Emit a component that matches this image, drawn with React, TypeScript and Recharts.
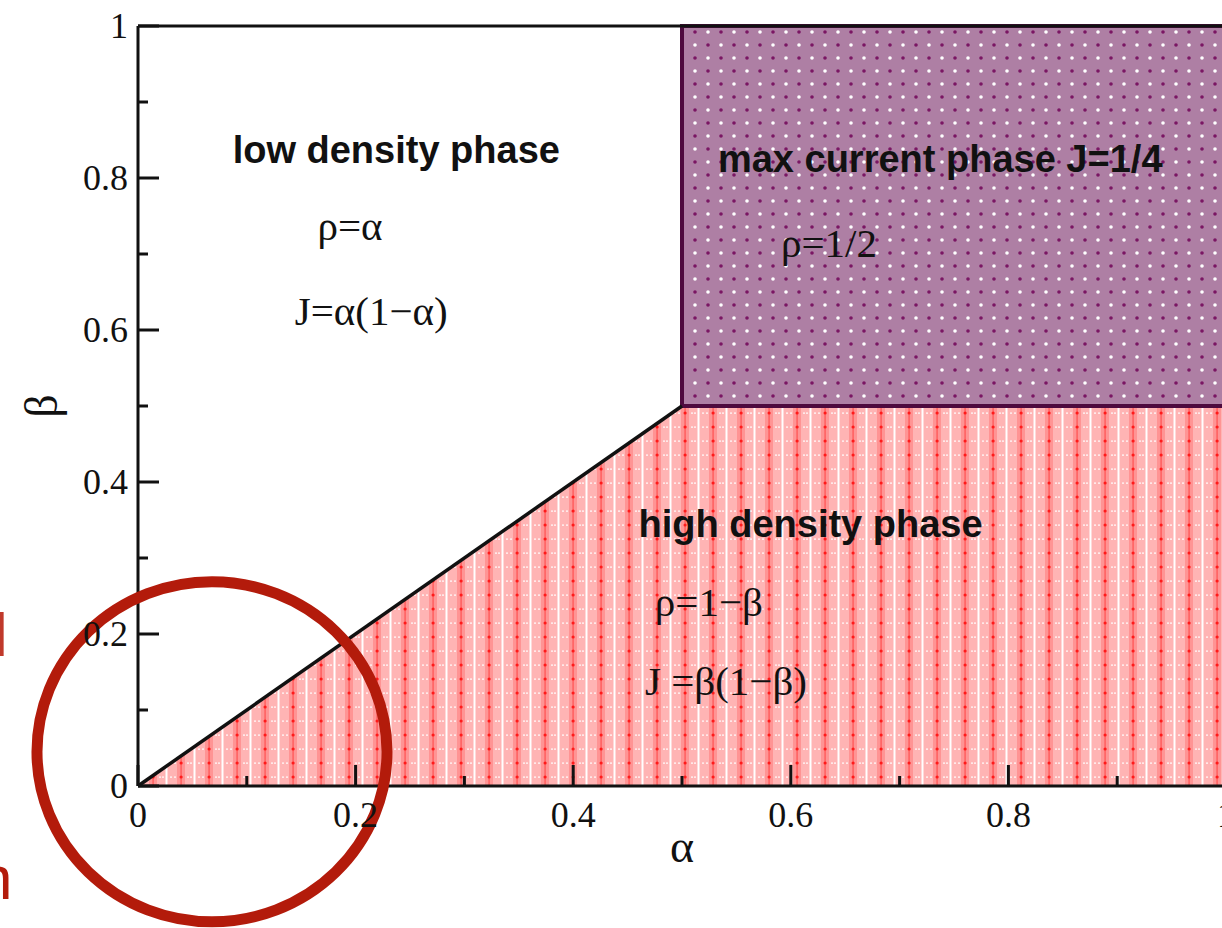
import React from 'react';
import {
  ComposedChart, Area, Line, XAxis, YAxis, ReferenceArea, ReferenceDot,
} from 'recharts';

// axis ticks (major every 0.2, minor every 0.1)
const alphaTicks = [0, 0.1, 0.2, 0.3, 0.4, 0.5, 0.6, 0.7, 0.8, 0.9, 1];
const betaTicks = [0, 0.1, 0.2, 0.3, 0.4, 0.5, 0.6, 0.7, 0.8, 0.9, 1];
const tickLabels = ['0', '', '0.2', '', '0.4', '', '0.6', '', '0.8', '', '1'];

// phase boundary: coexistence line alpha=beta up to 1/2, then beta=1/2
const boundaryAlpha = [0, 0.5, 1];
const boundaryBeta = [0, 0.5, 0.5];

// max current region
const maxCurrentAlpha = [0.5, 1];
const maxCurrentBeta = [0.5, 1];

// text inside the diagram, anchored in (alpha, beta)
const phaseLabels = [
  { text: 'low density phase', alpha: 0.087, beta: 0.82, bold: true },
  { text: 'ρ=α', alpha: 0.165, beta: 0.718, bold: false },
  { text: 'J=α(1−α)', alpha: 0.144, beta: 0.607, bold: false },
  { text: 'max current phase J=1/4', alpha: 0.533, beta: 0.808, bold: true },
  { text: 'ρ=1/2', alpha: 0.591, beta: 0.696, bold: false },
  { text: 'high density phase', alpha: 0.46, beta: 0.328, bold: true },
  { text: 'ρ=1−β', alpha: 0.475, beta: 0.224, bold: false },
  { text: 'J =β(1−β)', alpha: 0.466, beta: 0.12, bold: false },
];

// highlighted corner (red circle annotation)
const highlight = { alpha: 0.068, beta: 0.045 };

const highDensity = boundaryAlpha.map((a, i) => ({ alpha: a, beta: boundaryBeta[i] }));
const diagonal = highDensity.slice(0, 2);

const serif = '"Liberation Serif", "Times New Roman", serif';
const sans = '"Liberation Sans", Arial, Helvetica, sans-serif';
const ink = '#111';

const isMajor = (v: number) => Math.round(v * 10) % 2 === 0;

const makeTick = (side: 'bottom' | 'top' | 'left' | 'right') => (props: any) => {
  const { x, y, payload, index } = props;
  const len = isMajor(payload.value) ? 21 : 10;
  let line;
  if (side === 'bottom') line = <line x1={x} y1={y} x2={x} y2={y - len} />;
  else if (side === 'top') line = <line x1={x} y1={y} x2={x} y2={y + len} />;
  else if (side === 'left') line = <line x1={x} y1={y} x2={x + len} y2={y} />;
  else line = <line x1={x} y1={y} x2={x - len} y2={y} />;
  const label = tickLabels[index];
  return (
    <g>
      <g stroke={ink} strokeWidth={3}>{line}</g>
      {side === 'bottom' && label && (
        <text x={x} y={y + 41} textAnchor="middle" fontFamily={serif} fontSize={36} fill={ink}>{label}</text>
      )}
      {side === 'left' && label && (
        <text x={x - 10} y={y + 12} textAnchor="end" fontFamily={serif} fontSize={36} fill={ink}>{label}</text>
      )}
    </g>
  );
};

export default function App() {
  return (
    <div style={{ position: 'absolute', left: 0, top: 0, width: 1222, height: 928, overflow: 'hidden', background: '#fff' }}>
      <ComposedChart width={1240} height={928} margin={{ top: 0, right: 0, bottom: 0, left: 0 }}>
        <defs>
          <pattern id="pinkHatch" patternUnits="userSpaceOnUse" width={28} height={14}>
            <rect width={28} height={14} fill="#ffb4b4" />
            <rect x={9} width={8} height={14} fill="#ff9494" />
            <rect x={12.3} width={1.6} height={14} fill="#ff6262" />
            <rect x={25.5} width={2} height={14} fill="#ffffff" />
            <rect x={2} y={6.5} width={2} height={1.2} fill="#ffffff" />
            <rect x={6} y={6.5} width={2} height={1.2} fill="#ffffff" />
            <rect x={19} y={6.5} width={2} height={1.2} fill="#ffffff" />
            <rect x={22} y={6.5} width={2} height={1.2} fill="#ffffff" />
            <circle cx={13.1} cy={7} r={1.6} fill="#ff1a1a" />
          </pattern>
          <pattern id="purpleDots" patternUnits="userSpaceOnUse" width={26} height={26}>
            <rect width={26} height={26} fill="#ae7fa4" />
            <circle cx={6} cy={6} r={1.8} fill="#ffffff" />
            <circle cx={19} cy={19} r={1.8} fill="#ffffff" />
            <circle cx={19} cy={6} r={1.8} fill="#7a1663" />
            <circle cx={6} cy={19} r={1.8} fill="#7a1663" />
          </pattern>
        </defs>

        <XAxis
          dataKey="alpha" type="number" domain={[0, 1]} ticks={alphaTicks} interval={0}
          height={142} tickSize={0} tickMargin={0} tickLine={false}
          axisLine={{ stroke: ink, strokeWidth: 3 }} tick={makeTick('bottom')}
          label={{
            content: (p: any) => (
              <text x={p.viewBox.x + p.viewBox.width / 2} y={p.viewBox.y + 76} textAnchor="middle"
                fontFamily={serif} fontSize={46} fill={ink}>α</text>
            ),
          }}
        />
        <XAxis
          xAxisId="top" orientation="top" dataKey="alpha" type="number" domain={[0, 1]} ticks={alphaTicks}
          interval={0} height={26} tickSize={0} tickMargin={0} tickLine={false}
          axisLine={{ stroke: ink, strokeWidth: 3 }} tick={makeTick('top')}
        />
        <YAxis
          type="number" domain={[0, 1]} ticks={betaTicks} interval={0} width={138}
          tickSize={0} tickMargin={0} tickLine={false}
          axisLine={{ stroke: ink, strokeWidth: 3 }} tick={makeTick('left')}
          label={{
            content: (p: any) => {
              const cx = p.viewBox.x + 57;
              const cy = p.viewBox.y + p.viewBox.height / 2;
              return (
                <text x={cx} y={cy} textAnchor="middle" transform={`rotate(-90 ${cx} ${cy})`}
                  fontFamily={serif} fontSize={46} fill={ink}>β</text>
              );
            },
          }}
        />
        <YAxis
          yAxisId="right" orientation="right" type="number" domain={[0, 1]} ticks={betaTicks} interval={0}
          width={14} tickSize={0} tickMargin={0} tickLine={false}
          axisLine={{ stroke: ink, strokeWidth: 3 }} tick={makeTick('right')}
        />

        <Area
          data={highDensity} dataKey="beta" type="linear" fill="url(#pinkHatch)" fillOpacity={1}
          stroke="none" isAnimationActive={false}
        />
        <ReferenceArea
          x1={maxCurrentAlpha[0]} x2={maxCurrentAlpha[1]} y1={maxCurrentBeta[0]} y2={maxCurrentBeta[1]}
          fill="url(#purpleDots)" fillOpacity={1} stroke="#4e0a3e" strokeWidth={4}
        />
        <Line
          data={diagonal} dataKey="beta" type="linear" stroke={ink} strokeWidth={3.5}
          dot={false} activeDot={false} isAnimationActive={false}
        />

        {phaseLabels.map((l) => (
          <ReferenceDot
            key={l.text} x={l.alpha} y={l.beta} r={0} ifOverflow="visible"
            shape={(p: any) => (
              <text x={p.cx} y={p.cy} fontFamily={l.bold ? sans : serif} fontWeight={l.bold ? 'bold' : 'normal'}
                fontSize={l.bold ? 38 : 41} fill={ink}>{l.text}</text>
            )}
          />
        ))}

        <ReferenceDot
          x={highlight.alpha} y={highlight.beta} r={0} ifOverflow="visible"
          shape={(p: any) => (
            <ellipse cx={p.cx} cy={p.cy} rx={175} ry={170} fill="none" stroke="#b31b0b" strokeWidth={11} />
          )}
        />
      </ComposedChart>
      <span style={{ position: 'absolute', left: -6, top: 604, fontFamily: sans, fontSize: 62, lineHeight: 1, color: '#c0392b' }}>l</span>
      <span style={{ position: 'absolute', left: -22, top: 847, fontFamily: sans, fontSize: 62, lineHeight: 1, color: '#b31b0b' }}>n</span>
    </div>
  );
}
